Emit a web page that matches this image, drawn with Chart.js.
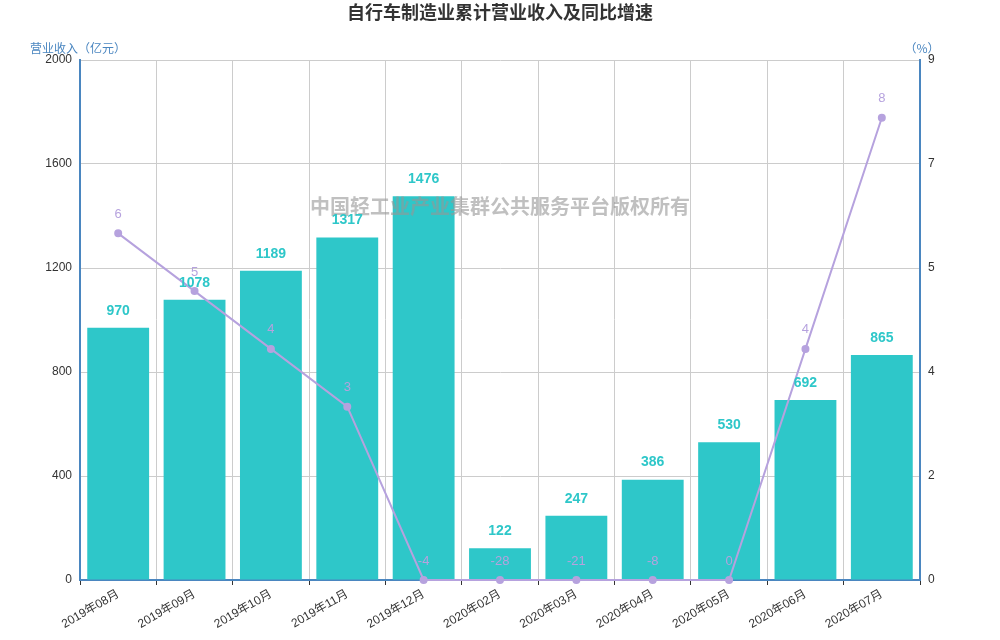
<!DOCTYPE html>
<html>
<head>
<meta charset="utf-8">
<script src="https://cdn.jsdelivr.net/npm/chart.js@4/dist/chart.umd.min.js"></script>
<style>
  body { margin: 0; background: #fff; }
  #wrap { width: 1000px; height: 640px; }
</style>
</head>
<body>
<div id="wrap"><canvas id="chart" width="1000" height="640"></canvas></div>
<script>
/* ---------- DATA ---------- */
const months = ["2019年08月", "2019年09月", "2019年10月", "2019年11月", "2019年12月",
  "2020年02月", "2020年03月", "2020年04月", "2020年05月", "2020年06月", "2020年07月"];
const revenue = [970, 1078, 1189, 1317, 1476, 122, 247, 386, 530, 692, 865];
const growth = [6.0, 5.0, 4.0, 3.0, -4, -28, -21, -8, 0, 4.0, 8.0];

const titleText = "自行车制造业累计营业收入及同比增速";
const leftAxisName = "营业收入（亿元）";
const rightAxisName = "（%）";
const watermark = "中国轻工业产业集群公共服务平台版权所有";

/* ---------- STYLE ---------- */
const FONT = '"Liberation Sans", "Noto Sans CJK SC", sans-serif';
const CJK = '"Noto Sans CJK SC", sans-serif';
const barColor = "#2ec7c9";
const lineColor = "#b6a2de";
const axisBlue = "#4a86c0";
const gridColor = "#cccccc";

/* ---------- LABEL PLUGIN ---------- */
const extras = {
  id: "extras",
  afterDatasetsDraw(chart) {
    const ctx = chart.ctx;
    ctx.save();

    // watermark
    ctx.font = "bold 20px " + FONT;
    ctx.fillStyle = "rgba(150,150,150,0.6)";
    ctx.textAlign = "center";
    ctx.textBaseline = "middle";
    ctx.fillText(watermark, 500, 208);

    // bar values
    ctx.font = "bold 14px " + FONT;
    ctx.fillStyle = barColor;
    chart.getDatasetMeta(1).data.forEach((el, i) => {
      ctx.fillText(revenue[i], el.x, el.y - 17);
    });

    // line values
    ctx.font = "13px " + FONT;
    ctx.fillStyle = lineColor;
    chart.getDatasetMeta(0).data.forEach((el, i) => {
      ctx.fillText(String(Math.round(growth[i])), el.x, el.y - 19);
    });
    ctx.restore();
  },
  afterDraw(chart) {
    const ctx = chart.ctx;
    const area = chart.chartArea;
    ctx.save();
    ctx.textAlign = "center";
    ctx.textBaseline = "middle";
    ctx.font = "bold 18px " + FONT;
    ctx.fillStyle = "#333";
    ctx.fillText(titleText, 500, 14);

    ctx.font = "12px " + CJK;
    ctx.fillStyle = axisBlue;
    ctx.fillText(leftAxisName, area.left - 2, 48);
    ctx.fillText(rightAxisName, area.right + 2, 48);
    ctx.restore();
  }
};

/* ---------- CHART ---------- */
new Chart(document.getElementById("chart").getContext("2d"), {
  data: {
    labels: months,
    datasets: [{
      type: "line",
      label: "同比增速",
      data: growth.map(v => Math.max(v, 0)),
      yAxisID: "y1",
      borderColor: lineColor,
      backgroundColor: lineColor,
      borderWidth: 2,
      pointRadius: 3,
      pointBackgroundColor: lineColor,
      tension: 0,
      clip: false,
      order: 0
    }, {
      type: "bar",
      label: "营业收入",
      data: revenue,
      yAxisID: "y",
      backgroundColor: barColor,
      categoryPercentage: 1,
      barPercentage: 0.81,
      order: 1
    }]
  },
  options: {
    responsive: false,
    animation: false,
    layout: { padding: { top: 60, left: 0, right: 0, bottom: 0 } },
    plugins: {
      legend: { display: false },
      tooltip: { enabled: false }
    },
    scales: {
      x: {
        offset: true,
        grid: { color: gridColor, offset: true, tickLength: 5, tickColor: "#333" },
        border: { color: axisBlue, width: 2 },
        ticks: { color: "#333", font: { size: 12, family: FONT }, maxRotation: 30, minRotation: 30, padding: 2 },
        afterFit(scale) { scale.height = 60; }
      },
      y: {
        position: "left",
        min: 0,
        max: 2000,
        ticks: {
          stepSize: 400,
          color: "#333",
          font: { size: 12, family: FONT },
          padding: 8,
          callback: v => String(v)
        },
        grid: { color: gridColor, drawTicks: false },
        border: { color: axisBlue, width: 2 },
        afterFit(scale) { scale.width = 80; }
      },
      y1: {
        position: "right",
        min: 0,
        max: 9,
        ticks: {
          stepSize: 1.8,
          color: "#333",
          font: { size: 12, family: FONT },
          padding: 8,
          callback: v => String(Math.round(v))
        },
        grid: { drawOnChartArea: false, drawTicks: false },
        border: { color: axisBlue, width: 2 },
        afterFit(scale) { scale.width = 80; }
      }
    }
  },
  plugins: [extras]
});
</script>
</body>
</html>
